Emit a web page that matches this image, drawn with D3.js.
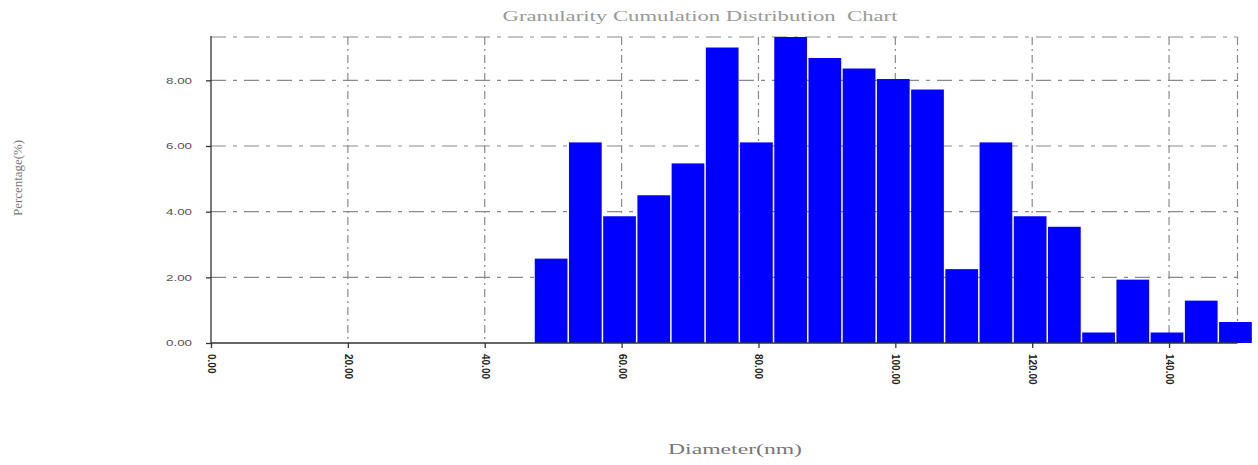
<!DOCTYPE html>
<html>
<head>
<meta charset="utf-8">
<script src="https://cdn.jsdelivr.net/npm/d3@7/dist/d3.min.js"></script>
<style>
  html, body { margin: 0; padding: 0; background: #fff; }
  svg { display: block; }
</style>
</head>
<body>
<svg id="chart" width="1258" height="465"></svg>
<script>
// Lower edge of each diameter bin (nm); every bin is 5 nm wide
const binStarts = [47.2, 52.2, 57.2, 62.2, 67.2, 72.2, 77.2, 82.2, 87.2, 92.2,
                   97.2, 102.2, 107.2, 112.2, 117.2, 122.2, 127.2, 132.2, 137.2, 142.2, 147.2];
const binWidth = 5;
// Share of particles in each bin (%)
const percentages = [2.57, 6.11, 3.86, 4.50, 5.47, 9.00, 6.11, 9.32, 8.68, 8.36,
                     8.04, 7.72, 2.25, 6.11, 3.86, 3.54, 0.32, 1.93, 0.32, 1.29, 0.64];
const xTicks = [0, 20, 40, 60, 80, 100, 120, 140];
const yTicks = [0, 2, 4, 6, 8];
const xMax = 150;

const svg = d3.select("#chart");
const plotLeft = 211, plotRight = 1237.5, plotTop = 37, plotBottom = 343;

const x = d3.scaleLinear().domain([0, xMax]).range([plotLeft, plotRight]);
const y = d3.scaleLinear().domain([0, d3.max(percentages)]).range([plotBottom, plotTop]);

// Grid: horizontal dash-dot lines at the y ticks and along the top edge
const gridColor = "#8a8a8a";
const hLines = yTicks.filter(v => v > 0).concat([d3.max(percentages)]);
svg.append("g").selectAll("line").data(hLines).join("line")
  .attr("x1", plotLeft).attr("x2", plotRight)
  .attr("y1", d => y(d)).attr("y2", d => y(d))
  .attr("stroke", gridColor).attr("stroke-width", 1.2)
  .attr("stroke-dasharray", "15,7,4,7");

// Vertical dash-dot lines at the x ticks and the right edge
const vLines = xTicks.filter(v => v > 0).concat([xMax]);
svg.append("g").selectAll("line").data(vLines).join("line")
  .attr("x1", d => x(d)).attr("x2", d => x(d))
  .attr("y1", plotTop).attr("y2", plotBottom)
  .attr("stroke", gridColor).attr("stroke-width", 1.2)
  .attr("stroke-dasharray", "8,4,2,4");

// Histogram bars
svg.append("g").selectAll("rect").data(percentages).join("rect")
  .attr("x", (d, i) => x(binStarts[i]) + 0.75)
  .attr("width", (d, i) => x(binStarts[i] + binWidth) - x(binStarts[i]) - 1.5)
  .attr("y", d => y(d))
  .attr("height", d => plotBottom - y(d))
  .attr("fill", "#0000ff");

// Axes
const xAxis = d3.axisBottom(x).tickValues(xTicks).tickSize(5)
  .tickFormat(d => d3.format(".2f")(d));
const gx = svg.append("g").attr("transform", `translate(0,${plotBottom})`).call(xAxis);
gx.select(".domain").attr("stroke", "#333").attr("stroke-width", 1.3)
  .attr("d", `M${plotLeft},0H${plotRight}`);
gx.selectAll(".tick line").attr("stroke", "#333").attr("stroke-width", 1.3);
gx.selectAll(".tick text")
  .attr("transform", "rotate(90)")
  .attr("x", 11).attr("y", 0).attr("dy", "0.35em")
  .attr("text-anchor", "start")
  .attr("fill", "#222")
  .style("font-family", "'Liberation Sans', Arial, sans-serif")
  .style("font-size", "10px").style("font-weight", "bold");

const yAxis = d3.axisLeft(y).tickValues(yTicks).tickSize(5)
  .tickFormat(d => d3.format(".2f")(d));
const gy = svg.append("g").attr("transform", `translate(${plotLeft},0)`).call(yAxis);
gy.select(".domain").attr("stroke", "#333").attr("stroke-width", 1.3)
  .attr("d", `M0,${plotTop - 1}V${plotBottom}`);
gy.selectAll(".tick line").attr("stroke", "#333").attr("stroke-width", 1.3);
gy.selectAll(".tick text")
  .attr("x", -19)
  .attr("fill", "#555")
  .attr("textLength", 26).attr("lengthAdjust", "spacingAndGlyphs")
  .style("font-family", "'Liberation Sans', Arial, sans-serif")
  .style("font-size", "9px");

// Titles
svg.append("text")
  .attr("x", 700).attr("y", 21)
  .attr("text-anchor", "middle")
  .attr("textLength", 395).attr("lengthAdjust", "spacingAndGlyphs")
  .attr("fill", "#999")
  .style("white-space", "pre")
  .style("font-family", "'Liberation Serif', 'DejaVu Serif', serif")
  .style("font-size", "14px")
  .text("Granularity Cumulation Distribution  Chart");

svg.append("text")
  .attr("x", 735).attr("y", 454)
  .attr("text-anchor", "middle")
  .attr("textLength", 134).attr("lengthAdjust", "spacingAndGlyphs")
  .attr("fill", "#777")
  .style("font-family", "'Liberation Serif', 'DejaVu Serif', serif")
  .style("font-size", "14px")
  .text("Diameter(nm)");

svg.append("text")
  .attr("transform", "translate(22,178) rotate(-90)")
  .attr("text-anchor", "middle")
  .attr("textLength", 76).attr("lengthAdjust", "spacingAndGlyphs")
  .attr("fill", "#777")
  .style("font-family", "'Liberation Serif', 'DejaVu Serif', serif")
  .style("font-size", "13px")
  .text("Percentage(%)");
</script>
</body>
</html>
